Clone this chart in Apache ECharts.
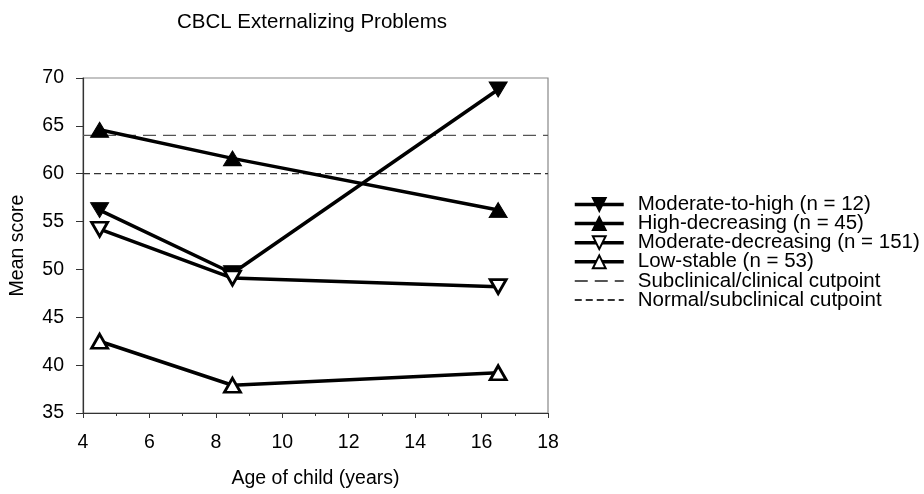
<!DOCTYPE html>
<html>
<head>
<meta charset="utf-8">
<script src="https://cdn.jsdelivr.net/npm/echarts@6/dist/echarts.min.js"></script>
<style>
  html, body { margin: 0; padding: 0; background: #fff; }
  #chart { width: 924px; height: 494px; }
</style>
</head>
<body>
<div id="chart"></div>
<script>
  // age at each assessment
  var ages = [4.5, 8.5, 16.5];
  // mean score per trajectory group
  var moderateToHigh = [56.2, 49.6, 68.8];
  var highDecreasing = [64.6, 61.6, 56.2];
  var moderateDecreasing = [54.2, 49.1, 48.2];
  var lowStable = [42.5, 37.9, 39.2];
  // cutpoints, drawn across the whole x range
  var cutpointRange = [4, 18];
  var subclinicalCut = 64;
  var normalCut = 60;
  var groupNames = ['Moderate-to-high (n = 12)', 'High-decreasing (n = 45)',
    'Moderate-decreasing (n = 151)', 'Low-stable (n = 53)'];
  var cutNames = ['Subclinical/clinical cutpoint', 'Normal/subclinical cutpoint'];

  var font = 'Liberation Sans, Arial, sans-serif';

  function pairs(xs, ys) {
    return xs.map(function (x, i) { return [x, ys[i]]; });
  }

  function group(name, values, down, filled) {
    return {
      name: name,
      type: 'line',
      data: pairs(ages, values),
      symbol: 'triangle',
      symbolSize: filled ? [18, 15] : [16, 14],
      symbolRotate: down ? 180 : 0,
      lineStyle: { color: '#000', width: 3.5 },
      itemStyle: filled
        ? { color: '#000', borderColor: '#000', borderWidth: 1 }
        : { color: '#fff', borderColor: '#000', borderWidth: 2.8 },
      z: 3
    };
  }

  function cutLine(name, value, dash, color) {
    return {
      name: name,
      type: 'line',
      data: pairs(cutpointRange, [value, value]),
      symbol: 'none',
      itemStyle: { color: color },
      lineStyle: { color: color, width: 1.2, type: dash },
      z: 1
    };
  }

  var legendItems = groupNames.map(function (n) {
    return { name: n, lineStyle: { width: 3.5 } };
  }).concat(cutNames.map(function (n) {
    return { name: n, itemStyle: { opacity: 0 } };
  }));

  var myChart = echarts.init(document.getElementById('chart'));
  myChart.setOption({
    animation: false,
    title: {
      text: 'CBCL Externalizing Problems',
      left: 307,
      top: 7,
      textAlign: 'center',
      textStyle: { fontFamily: font, fontSize: 20.5, fontWeight: 'normal', color: '#000' }
    },
    grid: {
      left: 82, right: 376, top: 78, bottom: 80,
      show: true, borderColor: '#888', borderWidth: 1.2, backgroundColor: 'transparent'
    },
    legend: {
      orient: 'vertical',
      left: 568,
      top: 189,
      itemWidth: 49,
      itemHeight: 16,
      itemGap: -1.9,
      data: legendItems,
      textStyle: { fontFamily: font, fontSize: 20.5, lineHeight: 17, color: '#000', padding: [0, 0, 0, 9] }
    },
    xAxis: {
      type: 'value',
      min: 4, max: 18, interval: 2,
      name: 'Age of child (years)',
      nameLocation: 'middle',
      nameGap: 56,
      nameTextStyle: { fontFamily: font, fontSize: 19.5, color: '#000' },
      axisLine: { lineStyle: { color: '#333', width: 1.2 } },
      axisTick: { length: 5, lineStyle: { color: '#333' } },
      minorTick: { show: true, splitNumber: 2, length: 3, lineStyle: { color: '#333' } },
      splitLine: { show: false },
      axisLabel: { margin: 20, fontFamily: font, fontSize: 19.5, color: '#000' }
    },
    yAxis: {
      type: 'value',
      min: 35, max: 70, interval: 5,
      name: 'Mean score',
      nameLocation: 'middle',
      nameGap: 55,
      nameTextStyle: { fontFamily: font, fontSize: 19.5, color: '#000' },
      axisLine: { show: true, lineStyle: { color: '#333', width: 1.2 } },
      axisTick: { show: true, length: 7, lineStyle: { color: '#333' } },
      splitLine: { show: false },
      axisLabel: { margin: 19, fontFamily: font, fontSize: 19.5, color: '#000' }
    },
    series: [
      group(groupNames[0], moderateToHigh, true, true),
      group(groupNames[1], highDecreasing, false, true),
      group(groupNames[2], moderateDecreasing, true, false),
      group(groupNames[3], lowStable, false, false),
      cutLine(cutNames[0], subclinicalCut, [13, 7], '#555'),
      cutLine(cutNames[1], normalCut, [7, 4], '#333')
    ]
  });
</script>
</body>
</html>
